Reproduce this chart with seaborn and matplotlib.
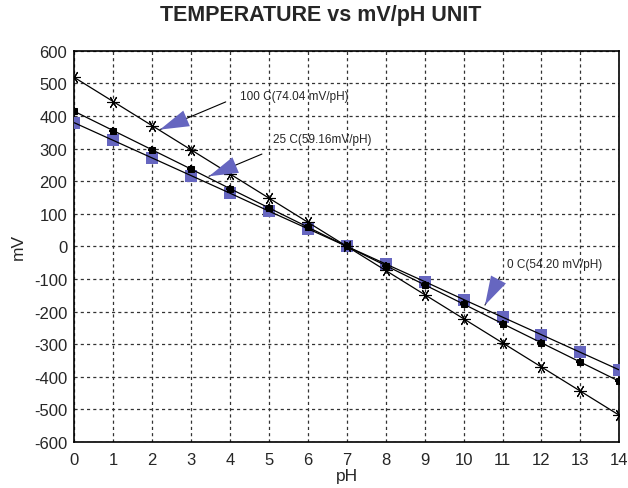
import matplotlib
matplotlib.use("Agg")
import matplotlib.pyplot as plt
import seaborn as sns
import pandas as pd

ph = [0, 1, 2, 3, 4, 5, 6, 7, 8, 9, 10, 11, 12, 13, 14]
mv_100c = [518, 444, 370, 296, 222, 148, 74, 0, -74, -148, -222, -296, -370, -444, -518]
mv_25c = [414, 355, 296, 237, 177, 118, 59, 0, -59, -118, -177, -237, -296, -355, -414]
mv_0c = [379, 325, 271, 217, 163, 108, 54, 0, -54, -108, -163, -217, -271, -325, -379]
x_ticks = list(range(0, 15))
y_ticks = list(range(-600, 601, 100))
title = "TEMPERATURE vs mV/pH UNIT"
labels = ["100 C(74.04 mV/pH)", "25 C(59.16mV/pH)", "0 C(54.20 mV/pH)"]

sns.set_style("white")
plt.rcParams['font.family'] = ['Liberation Sans', 'DejaVu Sans']
plt.rcParams['axes.unicode_minus'] = False

fig = plt.figure(figsize=(6.28, 4.89), dpi=100)
ax = fig.add_axes([74.3/628, 1-443/489, (619.3-74.3)/628, (443-51.7)/489])

purple = '#6666c0'
df = pd.DataFrame({'pH': ph, 'c100': mv_100c, 'c25': mv_25c, 'c0': mv_0c})

sns.lineplot(data=df, x='pH', y='c100', ax=ax, color='black', lw=0.9,
             marker=(6, 2, 90), markersize=9, markeredgewidth=0.8,
             markeredgecolor='black', zorder=5)
sns.lineplot(data=df, x='pH', y='c25', ax=ax, color='black', lw=0.9,
             marker='s', markersize=4.5, markeredgecolor='black', zorder=5)
sns.scatterplot(data=df, x='pH', y='c25', ax=ax, color='black', marker='+',
                s=40, linewidth=1.5, zorder=6)
sns.scatterplot(data=df, x='pH', y='c0', ax=ax, color=purple, marker='s',
                s=70, linewidth=0, zorder=4)
sns.lineplot(data=df, x='pH', y='c0', ax=ax, color='black', lw=0.9, zorder=5)

ax.set_xlim(0, 14)
ax.set_ylim(-600, 600)
ax.set_xticks(x_ticks)
ax.set_yticks(y_ticks)
ax.grid(True, color='#333333', linestyle=(0, (2.5, 2.5)), linewidth=0.9)
for s in ax.spines.values():
    s.set_color('black')
    s.set_linewidth(1.2)
ax.tick_params(axis='both', direction='out', length=4, width=1, color='black',
               labelsize=12, pad=1)
ax.tick_params(axis='x', pad=3)
ax.set_xlabel('pH', fontsize=12.5, labelpad=1)
ax.set_ylabel('mV', fontsize=12.5, labelpad=6)

fig.suptitle(title, x=321/628, y=0.99, fontsize=15.5, fontweight='bold')

annots = [
    (labels[0], (4.26, 461), (3.89, 443), (2.20, 358)),
    (labels[1], (5.10, 329), (4.82, 283), (3.46, 215)),
    (labels[2], (11.12, -54), (10.93, -94), (10.55, -180)),
]
for txt, tpos, start, tip in annots:
    ax.text(tpos[0], tpos[1], txt, fontsize=8.5, va='center', ha='left', zorder=7)
    ax.annotate('', xy=tip, xytext=start,
                arrowprops=dict(arrowstyle='-', color='black', lw=0.8,
                                shrinkA=0, shrinkB=0), zorder=7)
    ax.annotate('', xy=tip, xytext=start,
                arrowprops=dict(arrowstyle='-|>,head_length=1.3,head_width=0.38',
                                mutation_scale=16, fc=purple, ec='none', lw=0,
                                shrinkA=0, shrinkB=0), zorder=8)

fig.savefig('out.png', dpi=100)
